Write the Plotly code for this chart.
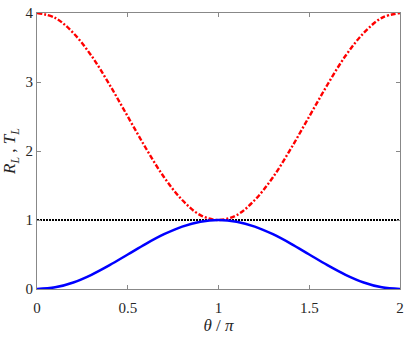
import plotly.graph_objects as go

theta = [0.0, 0.1, 0.2, 0.3, 0.4, 0.5, 0.6, 0.7, 0.8, 0.9, 1.0,
         1.1, 1.2, 1.3, 1.4, 1.5, 1.6, 1.7, 1.8, 1.9, 2.0]
T_L = [0.0, 0.024, 0.095, 0.206, 0.345, 0.50, 0.655, 0.794, 0.905, 0.976, 1.0,
       0.976, 0.905, 0.794, 0.655, 0.50, 0.345, 0.206, 0.095, 0.024, 0.0]
R_L = [4.0, 3.93, 3.71, 3.38, 2.96, 2.50, 2.04, 1.62, 1.29, 1.07, 1.0,
       1.07, 1.29, 1.62, 2.04, 2.50, 2.96, 3.38, 3.71, 3.93, 4.0]
ref_x = [0.0, 2.0]
ref_y = [1.0, 1.0]

x_ticks = [0, 0.5, 1, 1.5, 2]
x_labels = ["0", "0.5", "1", "1.5", "2"]
y_ticks = [0, 1, 2, 3, 4]
y_labels = ["0", "1", "2", "3", "4"]

SERIF = "Liberation Serif, Times New Roman, serif"

fig = go.Figure()
fig.add_trace(go.Scatter(x=ref_x, y=ref_y, mode="lines",
                         line=dict(color="black", width=2, dash="2px,1px")))
fig.add_trace(go.Scatter(x=theta, y=R_L, mode="lines",
                         line=dict(color="red", width=2.4, dash="5px,2px,2px,2px", shape="spline")))
fig.add_trace(go.Scatter(x=theta, y=T_L, mode="lines",
                         line=dict(color="blue", width=2.5, shape="spline")))

axis_common = dict(showgrid=False, zeroline=False, showline=True, linecolor="#888888",
                   linewidth=1, mirror="ticks", ticks="inside", ticklen=4,
                   tickcolor="#888888", ticklabeloverflow="allow",
                   tickfont=dict(family=SERIF, size=15, color="#262626"))

fig.update_layout(
    width=409, height=337,
    margin=dict(l=37, r=5, t=7, b=47),
    paper_bgcolor="white", plot_bgcolor="white",
    showlegend=False,
    xaxis=dict(range=[0, 2], tickvals=x_ticks, ticktext=x_labels, ticklabelstandoff=5,
               title=dict(text="<i>θ</i> / <i>π</i>", font=dict(family=SERIF, size=17, color="#262626"),
                          standoff=4),
               **axis_common),
    yaxis=dict(range=[0, 4], tickvals=y_ticks, ticktext=y_labels,
               title=dict(text="<i>R</i><sub><i>L</i></sub> , <i>T</i><sub><i>L</i></sub>",
                          font=dict(family=SERIF, size=17, color="#262626"), standoff=6),
               **axis_common),
)

fig.write_html("out.html", config={"displayModeBar": False},
               post_script="document.body.style.margin='0';document.body.style.padding='0';")
